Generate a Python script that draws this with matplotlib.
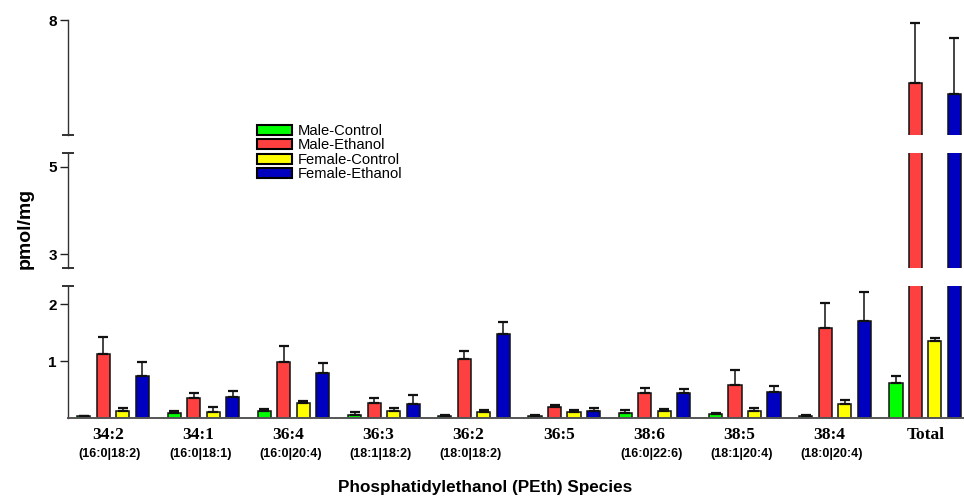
import numpy as np
import matplotlib
matplotlib.use('Agg')
import matplotlib.pyplot as plt
from matplotlib.patches import Patch

# data (pmol/mg)
species = ['34:2', '34:1', '36:4', '36:3', '36:2', '36:5', '38:6', '38:5', '38:4', 'Total']
sublabels = ['(16:0|18:2)', '(16:0|18:1)', '(16:0|20:4)', '(18:1|18:2)', '(18:0|18:2)', '',
             '(16:0|22:6)', '(18:1|20:4)', '(18:0|20:4)', '']

male_control = [0.03, 0.09, 0.13, 0.06, 0.04, 0.04, 0.09, 0.07, 0.04, 0.62]
male_control_err = [0.01, 0.03, 0.03, 0.04, 0.02, 0.01, 0.05, 0.02, 0.02, 0.12]
male_ethanol = [1.12, 0.35, 0.99, 0.27, 1.03, 0.20, 0.44, 0.58, 1.58, 6.90]
male_ethanol_err = [0.31, 0.09, 0.28, 0.08, 0.15, 0.03, 0.09, 0.26, 0.45, 1.04]
female_control = [0.13, 0.11, 0.26, 0.13, 0.105, 0.10, 0.13, 0.13, 0.245, 1.36]
female_control_err = [0.04, 0.08, 0.04, 0.04, 0.035, 0.04, 0.03, 0.04, 0.065, 0.05]
female_ethanol = [0.74, 0.37, 0.79, 0.25, 1.47, 0.12, 0.44, 0.45, 1.70, 6.71]
female_ethanol_err = [0.24, 0.11, 0.17, 0.15, 0.22, 0.05, 0.07, 0.12, 0.52, 0.98]

groups = ['Male-Control', 'Male-Ethanol', 'Female-Control', 'Female-Ethanol']
colors = ['#00ff00', '#ff4040', '#ffff00', '#0000c0']
values = [male_control, male_ethanol, female_control, female_ethanol]
errors = [male_control_err, male_ethanol_err, female_control_err, female_ethanol_err]

plt.rcParams['font.family'] = ['Liberation Sans', 'DejaVu Sans']

fig = plt.figure(figsize=(9.64, 4.98), dpi=100)
H = 498.0
W = 964.0
left = 68 / W

# three stacked segments of the broken y axis (pixel rows top..bottom)
segs = [(20, 135, 6.0, 8.0, [8]),
        (153, 268, 2.68, 5.32, [3, 5]),
        (286, 418, 0.0, 2.32, [1, 2])]

x = np.arange(len(species))
pitch = 0.216
width = 0.145

axes = []
for top_px, bot_px, lo, hi, ticks in segs:
    ax = fig.add_axes([left, (H - bot_px) / H, 1 - left, (bot_px - top_px) / H])
    for k in range(4):
        xs = x + (k - 1.5) * pitch
        ax.bar(xs, values[k], width, color=colors[k], edgecolor='#111111', linewidth=1.1)
        ax.errorbar(xs, values[k], yerr=[np.zeros(len(x)), errors[k]], fmt='none',
                    ecolor='#111111', elinewidth=1.1, capsize=3.5, capthick=1.6)
    ax.set_xlim(-0.5, 9.43)
    ax.set_ylim(lo, hi)
    ax.set_yticks(ticks)
    ax.set_yticklabels([str(t) for t in ticks], fontweight='bold', fontsize=11)
    ax.tick_params(axis='y', length=6, width=1, pad=2, colors='#222222', labelcolor='black')
    for s in ['top', 'right', 'bottom']:
        ax.spines[s].set_visible(False)
    ax.spines['left'].set_color('#333333')
    ax.spines['left'].set_linewidth(1.0)
    ax.set_xticks([])
    ax.patch.set_alpha(0)
    axes.append(ax)

ax_top, ax_mid, ax_bot = axes
ax_bot.spines['bottom'].set_visible(True)
ax_bot.spines['bottom'].set_color('#555555')
ax_bot.spines['bottom'].set_linewidth(1.4)

# end caps on the axis segments
cap_kw = dict(marker='_', markersize=9, markeredgewidth=1.3, color='#222222', clip_on=False)
ax_top.plot([0], [0], transform=ax_top.transAxes, **cap_kw)
ax_mid.plot([0, 0], [0, 1], transform=ax_mid.transAxes, linestyle='none', **cap_kw)
ax_bot.plot([0], [1], transform=ax_bot.transAxes, **cap_kw)

# category labels
for i in range(len(species)):
    off = 0 if species[i] == 'Total' else -0.06
    ax_bot.text(i + off, -0.125, species[i], transform=ax_bot.get_xaxis_transform(),
                ha='center', va='center', fontsize=12.5, fontweight='bold',
                family=['Liberation Serif', 'DejaVu Serif'])
    if sublabels[i]:
        ax_bot.text(i - 0.035, -0.275, sublabels[i], transform=ax_bot.get_xaxis_transform(),
                    ha='center', va='center', fontsize=9, fontweight='bold')

fig.text(485 / W, 1 - 487 / H, 'Phosphatidylethanol (PEth) Species', ha='center', va='center',
         fontsize=12.3, fontweight='bold')
fig.text(25 / W, 1 - 228 / H, 'pmol/mg', ha='center', va='center', rotation=90,
         fontsize=14, fontweight='bold')

handles = [Patch(facecolor=colors[k], edgecolor='black', linewidth=1.5) for k in range(4)]
fig.legend(handles, groups, loc='upper left', bbox_to_anchor=(257 / W, 1 - 124 / H),
           frameon=False, fontsize=10.6, handlelength=2.35, handleheight=0.65,
           handletextpad=0.4, labelspacing=0.03, borderpad=0, borderaxespad=0)

fig.savefig('out.png', dpi=100)
